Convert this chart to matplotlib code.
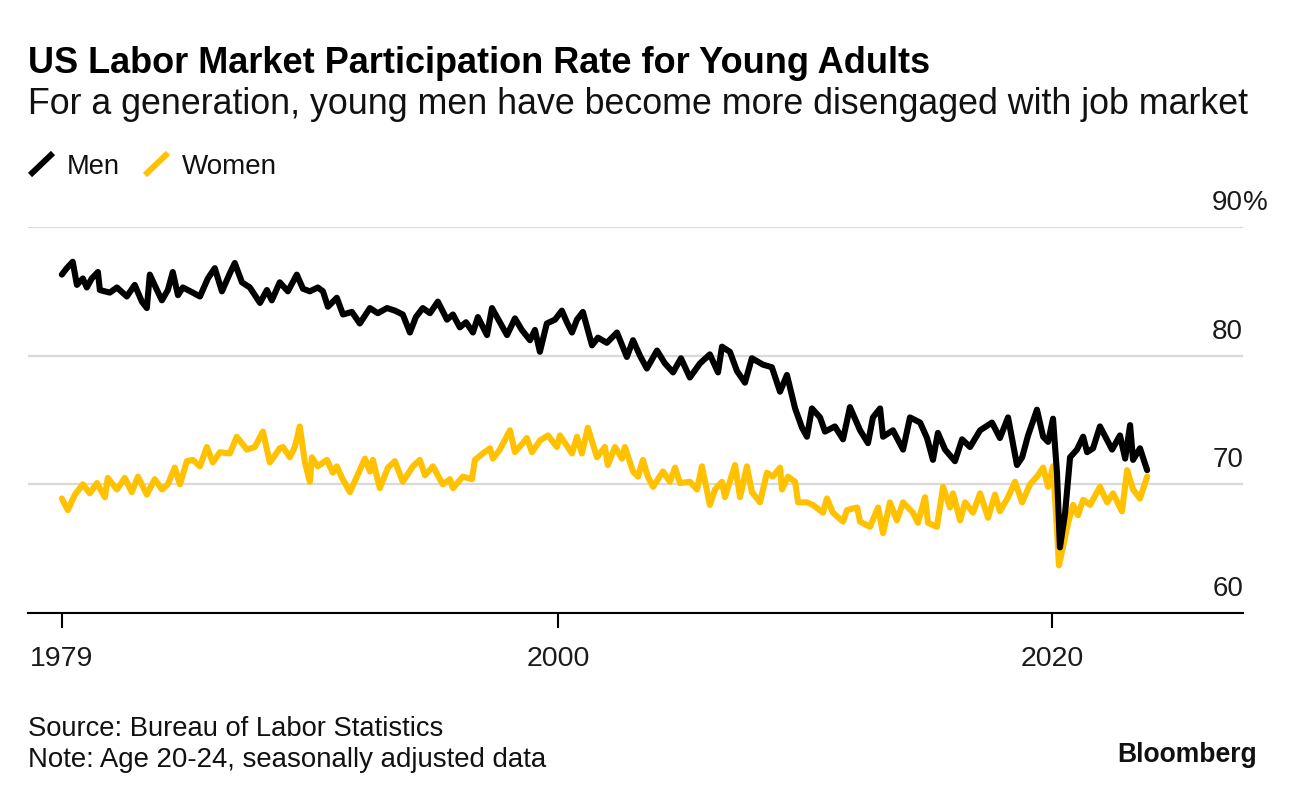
import matplotlib
matplotlib.use('Agg')
import matplotlib.pyplot as plt
import matplotlib.transforms as mtransforms
from matplotlib.lines import Line2D

plt.rcParams['font.family'] = ['Liberation Sans', 'DejaVu Sans']

# ---------------- data ----------------
men_years = [1979.92, 1980.12, 1980.36, 1980.53, 1980.77, 1980.93, 1981.13, 1981.38, 1981.46, 1981.86,
             1982.15, 1982.55, 1982.87, 1983.16, 1983.36, 1983.48, 1983.77, 1983.97, 1984.21, 1984.41,
             1984.62, 1984.82, 1985.22, 1985.51, 1985.83, 1986.11, 1986.40, 1986.72, 1986.92, 1987.21,
             1987.53, 1987.94, 1988.22, 1988.42, 1988.74, 1989.07, 1989.43, 1989.68, 1989.96, 1990.28,
             1990.49, 1990.69, 1991.05, 1991.30, 1991.66, 1991.98, 1992.39, 1992.71, 1993.08, 1993.40,
             1993.72, 1994.01, 1994.25, 1994.53, 1994.82, 1995.14, 1995.51, 1995.75, 1996.03, 1996.28,
             1996.56, 1996.76, 1997.13, 1997.33, 1997.65, 1997.94, 1998.26, 1998.54, 1998.87, 1999.07,
             1999.27, 1999.55, 1999.88, 2000.16, 2000.36, 2000.57, 2000.77, 2001.01, 2001.38, 2001.62,
             2001.98, 2002.39, 2002.79, 2003.04, 2003.32, 2003.60, 2004.01, 2004.33, 2004.66, 2004.98,
             2005.34, 2005.75, 2006.15, 2006.48, 2006.64, 2006.96, 2007.25, 2007.57, 2007.85, 2008.30,
             2008.66, 2008.99, 2009.27, 2009.60, 2009.88, 2010.08, 2010.28, 2010.61, 2010.81, 2011.21,
             2011.54, 2011.82, 2012.23, 2012.55, 2012.75, 2013.04, 2013.16, 2013.56, 2013.97, 2014.25,
             2014.66, 2014.94, 2015.18, 2015.38, 2015.67, 2016.07, 2016.36, 2016.68, 2017.09, 2017.57,
             2017.89, 2018.22, 2018.58, 2018.79, 2019.03, 2019.39, 2019.64, 2019.84, 2020.04, 2020.20,
             2020.32, 2020.53, 2020.73, 2021.01, 2021.26, 2021.42, 2021.66, 2021.94, 2022.43, 2022.75,
             2022.96, 2023.16, 2023.28, 2023.56, 2023.85]
men_values = [86.3, 86.8, 87.3, 85.5, 86.0, 85.3, 86.0, 86.5, 85.1, 84.9,
              85.3, 84.6, 85.5, 84.2, 83.7, 86.3, 85.1, 84.3, 85.1, 86.5,
              84.7, 85.3, 84.9, 84.6, 86.0, 86.8, 85.0, 86.4, 87.2, 85.7,
              85.3, 84.1, 85.1, 84.3, 85.7, 85.0, 86.3, 85.2, 85.0, 85.3,
              85.0, 83.8, 84.5, 83.2, 83.4, 82.5, 83.7, 83.3, 83.7, 83.5,
              83.2, 81.8, 83.0, 83.7, 83.3, 84.2, 82.8, 83.2, 82.2, 82.6,
              81.8, 83.0, 81.6, 83.7, 82.6, 81.6, 82.9, 82.0, 81.2, 82.0,
              80.3, 82.5, 82.8, 83.5, 82.6, 81.8, 82.8, 83.4, 80.8, 81.4,
              81.0, 81.8, 79.9, 81.2, 80.0, 79.0, 80.4, 79.4, 78.7, 79.8,
              78.3, 79.4, 80.1, 78.7, 80.7, 80.3, 78.8, 77.9, 79.8, 79.3,
              79.1, 77.2, 78.5, 75.9, 74.4, 73.7, 75.9, 75.2, 74.1, 74.5,
              73.5, 76.0, 74.2, 73.2, 75.2, 75.9, 73.7, 74.2, 72.7, 75.2,
              74.8, 73.6, 71.9, 74.0, 72.7, 71.8, 73.5, 72.9, 74.2, 74.8,
              73.6, 75.2, 71.5, 72.1, 73.8, 75.8, 73.7, 73.3, 75.1, 70.9,
              65.1, 67.8, 72.1, 72.7, 73.7, 72.5, 72.8, 74.5, 72.7, 73.8,
              72.0, 74.6, 71.9, 72.8, 71.1]

women_years = [1979.92, 1980.16, 1980.45, 1980.77, 1981.05, 1981.34, 1981.66, 1981.78, 1982.15, 1982.47,
               1982.75, 1983.00, 1983.36, 1983.68, 1983.97, 1984.21, 1984.49, 1984.70, 1984.98, 1985.22,
               1985.51, 1985.79, 1986.03, 1986.32, 1986.72, 1987.00, 1987.41, 1987.73, 1988.06, 1988.34,
               1988.74, 1988.87, 1989.15, 1989.35, 1989.55, 1989.76, 1989.96, 1990.04, 1990.28, 1990.65,
               1990.89, 1991.05, 1991.26, 1991.58, 1991.86, 1992.19, 1992.39, 1992.51, 1992.79, 1993.12,
               1993.40, 1993.72, 1994.13, 1994.41, 1994.62, 1994.94, 1995.34, 1995.63, 1995.75, 1996.15,
               1996.52, 1996.64, 1996.96, 1997.25, 1997.37, 1997.65, 1998.06, 1998.26, 1998.58, 1998.74,
               1998.95, 1999.27, 1999.60, 1999.96, 2000.08, 2000.57, 2000.77, 2000.97, 2001.21, 2001.58,
               2001.90, 2002.02, 2002.31, 2002.59, 2002.71, 2003.04, 2003.24, 2003.44, 2003.64, 2003.85,
               2004.25, 2004.53, 2004.74, 2004.94, 2005.34, 2005.63, 2005.83, 2006.15, 2006.36, 2006.64,
               2006.76, 2007.17, 2007.37, 2007.65, 2007.85, 2008.18, 2008.46, 2008.70, 2008.99, 2009.07,
               2009.31, 2009.60, 2009.72, 2010.08, 2010.32, 2010.73, 2010.89, 2011.13, 2011.54, 2011.70,
               2012.11, 2012.23, 2012.63, 2012.96, 2013.16, 2013.44, 2013.72, 2013.97, 2014.37, 2014.57,
               2014.86, 2014.98, 2015.34, 2015.59, 2015.87, 2015.99, 2016.28, 2016.48, 2016.80, 2017.09,
               2017.41, 2017.69, 2017.89, 2018.22, 2018.50, 2018.79, 2019.11, 2019.39, 2019.64, 2019.84,
               2020.04, 2020.20, 2020.28, 2020.53, 2020.65, 2020.85, 2021.05, 2021.26, 2021.54, 2021.94,
               2022.23, 2022.47, 2022.83, 2023.04, 2023.28, 2023.56, 2023.85]
women_values = [68.9, 68.0, 69.2, 70.0, 69.3, 70.1, 69.0, 70.5, 69.6, 70.5,
                69.4, 70.6, 69.2, 70.4, 69.6, 70.0, 71.3, 70.0, 71.8, 71.9,
                71.4, 72.9, 71.7, 72.5, 72.4, 73.7, 72.7, 72.9, 74.1, 71.7,
                72.8, 72.9, 72.1, 72.9, 74.5, 71.7, 70.2, 72.1, 71.4, 71.9,
                70.9, 71.4, 70.5, 69.4, 70.6, 72.0, 71.0, 71.9, 69.7, 71.3,
                71.8, 70.2, 71.4, 71.9, 70.7, 71.4, 70.0, 70.4, 69.7, 70.6,
                70.4, 71.9, 72.4, 72.8, 72.0, 72.7, 74.2, 72.5, 73.2, 73.6,
                72.5, 73.4, 73.8, 72.9, 73.8, 72.4, 73.7, 72.4, 74.4, 72.1,
                72.9, 71.5, 72.9, 72.0, 72.9, 71.0, 70.6, 71.9, 70.6, 69.8,
                71.0, 70.2, 71.3, 70.1, 70.2, 69.6, 71.4, 68.4, 69.6, 70.2,
                69.0, 71.5, 69.0, 71.4, 69.4, 68.6, 70.9, 70.6, 71.3, 69.6,
                70.6, 70.2, 68.6, 68.6, 68.4, 67.8, 68.9, 67.8, 67.1, 68.0,
                68.2, 67.1, 66.7, 68.2, 66.2, 68.6, 67.2, 68.6, 67.8, 67.0,
                69.0, 67.0, 66.7, 69.8, 68.2, 69.3, 67.2, 68.6, 67.8, 69.3,
                67.4, 69.2, 67.9, 69.0, 70.2, 68.6, 70.0, 70.6, 71.3, 69.8,
                71.4, 66.5, 63.7, 65.9, 67.0, 68.4, 67.6, 68.8, 68.4, 69.8,
                68.6, 69.3, 67.9, 71.1, 69.6, 68.9, 70.6]

series_names = ['Men', 'Women']
x_tick_years = [men_years[0], 2000, 2020]
x_tick_labels = ['1979', '2000', '2020']
y_ticks = [60, 70, 80, 90]
y_tick_labels = ['60', '70', '80', '90']

title = 'US Labor Market Participation Rate for Young Adults'
subtitle = 'For a generation, young men have become more disengaged with job market'
source = 'Source: Bureau of Labor Statistics'
note = 'Note: Age 20-24, seasonally adjusted data'

# ---------------- styling ----------------
BLACK = '#000000'
YELLOW = '#FFC100'
GRID = '#D9D9D9'

W, H = 1296, 798
fig = plt.figure(figsize=(W / 100, H / 100), dpi=100)


def fx(px):
    return px / W


def fy(py):
    return 1 - py / H


renderer = fig.canvas.get_renderer()


def fit_width(txt, target_px):
    for _ in range(4):
        w = txt.get_window_extent(renderer=renderer).width
        txt.set_fontsize(txt.get_fontsize() * target_px / w)


ax = fig.add_axes([fx(28), fy(613), fx(1243) - fx(28), fy(227) - fy(613)])
ax.set_xlim(1978.55, 2027.73)
ax.set_ylim(60, 90)

ax.plot(women_years, women_values, color=YELLOW, lw=4.4, solid_joinstyle='round',
        solid_capstyle='round', zorder=3)
ax.plot(men_years, men_values, color=BLACK, lw=4.4, solid_joinstyle='round',
        solid_capstyle='round', zorder=4)

for s in ['top', 'left', 'right']:
    ax.spines[s].set_visible(False)
ax.spines['bottom'].set_color(BLACK)
ax.spines['bottom'].set_linewidth(1.5)
ax.spines['bottom'].set_zorder(5)

ax.set_yticks(y_ticks)
ax.tick_params(axis='y', length=0, labelleft=False, labelright=False)
ax.yaxis.grid(True, color=GRID, lw=1.6)
ax.set_axisbelow(True)

ax.set_xticks(x_tick_years, x_tick_labels)
ax.tick_params(axis='x', length=11, width=1.5, color=BLACK, pad=13,
               labelsize=20.5, labelcolor='#1a1a1a')

blend = mtransforms.blended_transform_factory(ax.transAxes, ax.transData)
lab_tr = mtransforms.offset_copy(blend, fig=fig, x=0, y=17, units='dots')
for v, lab in zip(y_ticks, y_tick_labels):
    ax.text(1.0, v, lab, transform=lab_tr, ha='right', va='baseline',
            fontsize=20, color='#1a1a1a')
ax.text(1.0, y_ticks[-1], '%', transform=lab_tr, ha='left', va='baseline',
        fontsize=20, color='#1a1a1a')

# titles
t1 = fig.text(fx(28), fy(73), title, fontsize=24, fontweight='bold', ha='left', va='baseline')
fit_width(t1, 904)
t2 = fig.text(fx(28), fy(114), subtitle, fontsize=20, ha='left', va='baseline', color='#111111')
fit_width(t2, 1219)

# legend
for (x0, x1), col, name, tx in [((30, 53), BLACK, series_names[0], 67),
                                ((145, 168), YELLOW, series_names[1], 182)]:
    fig.add_artist(Line2D([fx(x0), fx(x1)], [fy(175), fy(153)], color=col, lw=4.3,
                          solid_capstyle='butt', transform=fig.transFigure))
    nt = fig.text(fx(tx), fy(174), name, fontsize=19.5, ha='left', va='baseline', color='#111111')
    fit_width(nt, 53 if name == 'Men' else 95)

# footer
s1 = fig.text(fx(28), fy(736), source, fontsize=17, ha='left', va='baseline', color='#111111')
fit_width(s1, 415)
s2 = fig.text(fx(28), fy(767), note, fontsize=17, ha='left', va='baseline', color='#111111')
fit_width(s2, 517)
b = fig.text(fx(1257), fy(762), 'Bloomberg', fontsize=18, fontweight='bold',
             ha='right', va='baseline', color='#111111')
fit_width(b, 140)

fig.savefig('out.png', dpi=100)
